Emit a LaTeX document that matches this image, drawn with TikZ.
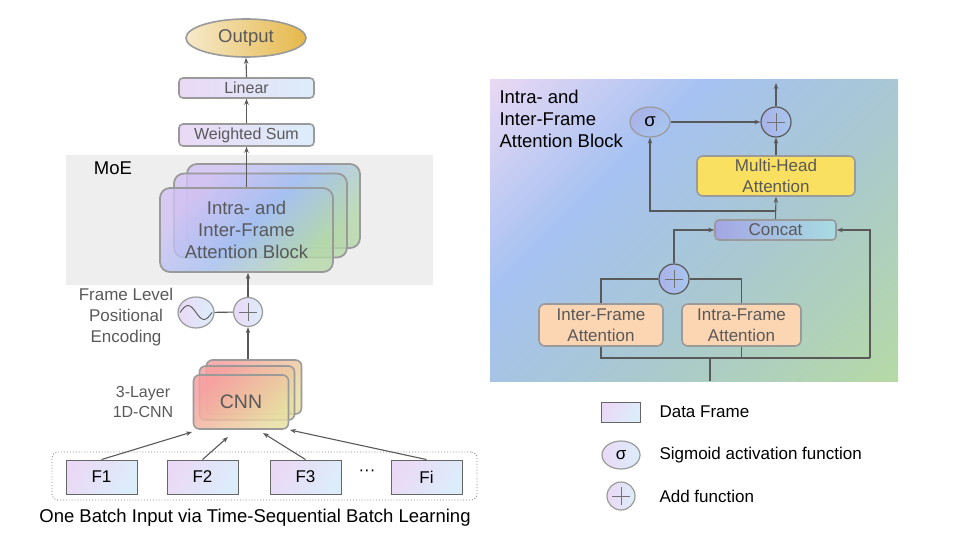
\documentclass[tikz,border=0pt]{standalone}
\usepackage{fontspec}
\setmainfont{Liberation Sans}
\usetikzlibrary{shapes.geometric,arrows.meta,calc}
\definecolor{txtgray}{HTML}{595959}
\definecolor{bdgray}{HTML}{9A9A9A}
\definecolor{lngray}{HTML}{595959}
\definecolor{lav}{HTML}{EAD9F6}
\definecolor{lblue}{HTML}{DCEDFA}
\definecolor{moegray}{HTML}{EEEEEE}
\definecolor{outL}{HTML}{F6E9CB}
\definecolor{outR}{HTML}{E6B84A}
\definecolor{attA}{HTML}{D2C2F3}
\definecolor{attB}{HTML}{A6C0F2}
\definecolor{attC}{HTML}{B4D8AA}
\definecolor{cnnA}{HTML}{F6A0A0}
\definecolor{cnnB}{HTML}{E8DEA2}
\definecolor{pl1}{HTML}{E8D8F4}
\definecolor{pl2}{HTML}{A6C2F2}
\definecolor{pl3}{HTML}{A9C8D0}
\definecolor{pl4}{HTML}{B6D9A6}
\definecolor{opfill}{HTML}{A9B2E8}
\definecolor{opfillB}{HTML}{A8C6EE}
\definecolor{mhay}{HTML}{FAE060}
\definecolor{peach}{HTML}{FCD5B2}
\definecolor{ccA}{HTML}{A4A6E4}
\definecolor{ccB}{HTML}{A8DCE2}
\pgfdeclarehorizontalshading{panelsh}{100bp}{color(0bp)=(pl1); color(15bp)=(pl1); color(36bp)=(pl2); color(58bp)=(pl3); color(85bp)=(pl4); color(100bp)=(pl4)}
\newcommand\fontBig{\fontsize{18.5}{22}\selectfont}
\newcommand\fontMid{\fontsize{17}{21}\selectfont}
\newcommand\fontSml{\fontsize{16}{19.5}\selectfont}
\begin{document}
\begin{tikzpicture}[x=1pt,y=-1pt,
  gbox/.style={draw=bdgray, line width=1.6pt, rounded corners=4pt, left color=lav, right color=lblue, text=txtgray, inner sep=0pt},
  arr/.style={draw=lngray, line width=1.1pt, -{Stealth[length=6pt,width=4.5pt]}},
  ln/.style={draw=lngray, line width=1.1pt},
  addop/.style={circle, draw=#1, line width=1.2pt, minimum size=29pt, inner sep=0pt,
    path picture={\draw[lngray!85, line width=0.9pt]
      ([xshift=-9pt]path picture bounding box.center) -- ([xshift=9pt]path picture bounding box.center)
      ([yshift=-9pt]path picture bounding box.center) -- ([yshift=9pt]path picture bounding box.center);}},
  attb/.style={draw=bdgray, line width=1.8pt, rounded corners=10pt, minimum width=173pt, minimum height=84pt,
    left color=attA, right color=attC, middle color=attB, shading angle=45, fill opacity=0.8, text opacity=1, inner sep=0pt},
  cnnb/.style={draw=bdgray, line width=1.6pt, rounded corners=6pt, minimum width=95pt, minimum height=54pt,
    left color=cnnA, right color=cnnB, shading angle=45, fill opacity=0.85, text opacity=1, inner sep=0pt},
  fbox/.style={draw=black!60, line width=0.9pt, minimum width=71pt, minimum height=34pt, left color=lav, right color=lblue, shading angle=60, font=\fontMid, inner sep=0pt},
  rbox/.style={draw=bdgray, line width=1.6pt, rounded corners=6pt, text=txtgray, font=\fontMid, align=center, inner sep=0pt},
]
\useasboundingbox (0,0) rectangle (960,540);

% ---------- left: MoE ----------
\node[fill=moegray, minimum width=367pt, minimum height=130pt, inner sep=0pt] (moe) at (249.5,220) {};
\node[font=\fontBig, anchor=center] (moelbl) at (113,168) {MoE};

\node[ellipse, draw=bdgray, line width=1.6pt, minimum width=120pt, minimum height=38pt, inner sep=0pt,
  left color=outL, right color=outR, text=txtgray, font=\fontBig] (out) at (246,38) {Output};
\node[gbox, minimum width=135pt, minimum height=20pt, font=\fontSml] (lin) at (246.5,88) {Linear};
\node[gbox, minimum width=135pt, minimum height=22pt, font=\fontSml] (ws) at (246.5,135) {Weighted Sum};

\node[attb] (att3) at (273.5,206) {};
\node[attb] (att2) at (260.5,215.5) {};
\node[attb, text=txtgray, font=\fontBig, align=center] (att1) at (246.5,230) {Intra- and\\Inter-Frame\\Attention Block};

\draw[arr] (lin.north) -- (out.south);
\draw[arr] (ws.north) -- (lin.south);
\draw[arr] (att1.north) -- (ws.south);

% positional encoding
\node[addop=bdgray, left color=lav, right color=lblue] (p1) at (248,312) {};
\node[ellipse, draw=bdgray, line width=1.2pt, minimum width=36pt, minimum height=31pt, inner sep=0pt,
  left color=lav, right color=lblue] (sine) at (196,312.5) {};
\draw[ln] (sine) -- (p1);
\draw[lngray, line width=0.9pt] ($(sine.center)+(-16,0)$) sin ++(8,-7) cos ++(8,7) sin ++(8,7) cos ++(8,-7);
\node[text=txtgray, font=\fontMid, align=center] (fpe) at (126,317) {Frame Level\\Positional\\Encoding};
\draw[arr] (p1.north) -- (p1 |- att1.south);

% CNN
\node[cnnb] (cnn3) at (254,387) {};
\node[cnnb] (cnn2) at (247,393) {};
\node[cnnb, text=txtgray, font=\fontsize{19.5}{23}\selectfont] (cnn1) at (241,402) {CNN};
\node[text=txtgray, font=\fontSml, align=center] (lay) at (143,402) {3-Layer\\1D-CNN};
\draw[arr] (p1 |- cnn3.north) -- (p1.south);

% batch
\node[draw=black!50, dotted, line width=0.9pt, rounded corners=6pt, minimum width=425pt, minimum height=48pt, inner sep=0pt] (batch) at (264.5,476) {};
\node[fbox] (f1) at (101.5,477) {F1};
\node[fbox] (f2) at (202.5,477) {F2};
\node[fbox] (f3) at (305.5,477) {F3};
\node[fbox] (fi) at (426.5,477) {Fi};
\node[font=\fontMid] (dots) at (367,473) {···};
\coordinate (t1) at (192,432);
\coordinate (t2) at (228,437);
\coordinate (t3) at (263,433);
\coordinate (t4) at (290,430);
\draw[arr] (f1.north) -- (t1);
\draw[arr] (f2.north) -- (t2);
\draw[arr] (f3.north) -- (t3);
\draw[arr] (fi.north) -- (t4);
\node[font=\fontBig] (cap) at (255,518) {One Batch Input via Time-Sequential Batch Learning};

% ---------- right panel ----------
\node[shading=panelsh, shading angle=-45, minimum width=408pt, minimum height=301pt, inner sep=0pt] (panel) at (694,230.5) {};
\node[font=\fontBig, align=left, anchor=west] (ptitle) at (496,119) {Intra- and\\Inter-Frame\\Attention Block};

\node[ellipse, draw=bdgray, line width=1.2pt, left color=opfill, right color=opfillB, shading angle=45, minimum width=40pt, minimum height=30pt, inner sep=0pt, font=\fontBig] (sig) at (650,122) {σ};
\node[addop=lngray, left color=opfill, right color=opfillB, minimum size=30pt] (pt) at (776,122) {};
\coordinate (topout) at (776,83);
\draw[arr] (sig.east) -- (pt.west);
\draw[arr] (pt.north) -- (topout);

\node[rbox, fill=mhay, minimum width=158pt, minimum height=40pt] (mha) at (776,176) {Multi-Head\\Attention};
\draw[arr] (mha.north) -- (pt.south);
\node[rbox, left color=ccA, right color=ccB, rounded corners=4pt, minimum width=121pt, minimum height=20pt] (cc) at (775.5,230) {Concat};
\draw[arr] (cc.north) -- (mha.south);
\coordinate (j1) at (776,211);
\draw[arr] (j1) -| (sig.south);

\node[addop=lngray, left color=opfill, right color=opfillB, minimum size=30pt] (pl) at (674,279) {};
\draw[arr] (pl.north) |- (cc.west);

\node[rbox, fill=peach, minimum width=124pt, minimum height=42pt] (inter) at (601,325) {Inter-Frame\\Attention};
\node[rbox, fill=peach, minimum width=119pt, minimum height=42pt] (intra) at (741.5,325) {Intra-Frame\\Attention};
\draw[ln] (inter.north) |- (pl.west);
\draw[ln] (intra.north) |- (pl.east);

\coordinate (inb) at (710,381);
\coordinate (hb) at (710,358);
\coordinate (rc) at (870,358);
\draw[ln] (inb) -- (hb);
\draw[ln] (inter.south) -- (inter.south |- hb) -- (rc);
\draw[ln] (intra.south) -- (intra.south |- hb);
\draw[arr] (rc) |- (cc.east);

% ---------- legend ----------
\node[draw=black!60, line width=0.9pt, minimum width=39pt, minimum height=20pt, left color=lav, right color=lblue, shading angle=60, inner sep=0pt] (lgf) at (620.5,412) {};
\node[font=\fontMid, anchor=west] (lgft) at (656,412) {Data Frame};
\node[ellipse, draw=bdgray, line width=1.2pt, minimum width=38pt, minimum height=28pt, left color=lav, right color=lblue, inner sep=0pt, font=\fontMid] (lgs) at (621,455) {σ};
\node[font=\fontMid, anchor=west] (lgst) at (656,455) {Sigmoid activation function};
\node[addop=bdgray, left color=lav, right color=lblue, minimum size=28pt] (lgp) at (621,496) {};
\node[font=\fontMid, anchor=west] (lgpt) at (656,496) {Add function};
\end{tikzpicture}
\end{document}
